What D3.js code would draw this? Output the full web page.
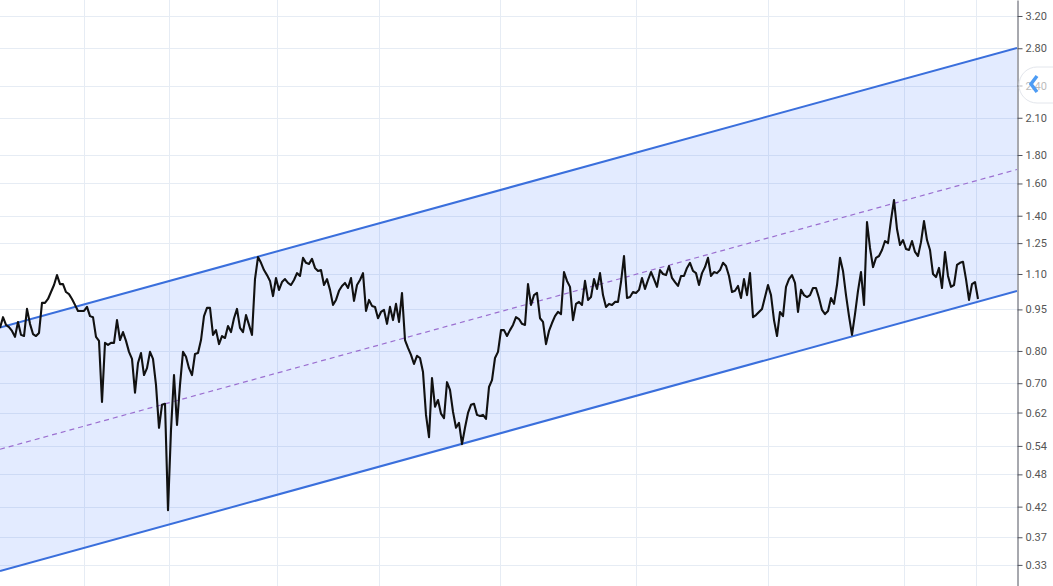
<!DOCTYPE html>
<html><head><meta charset="utf-8">
<script src="https://cdn.jsdelivr.net/npm/d3@7"></script>
<style>html,body{margin:0;padding:0;background:#fff;overflow:hidden}</style>
</head><body>
<svg id="chart" width="1053" height="586"></svg>
<script>
// Closing prices (one per bar)
const prices = [
0.880,0.920,0.891,0.883,0.869,0.848,0.902,0.855,0.851,0.952,
0.895,0.858,0.851,0.862,0.976,0.976,0.992,1.021,1.051,1.095,
1.055,1.055,1.021,1.012,0.992,0.968,0.944,0.944,0.944,0.960,
0.924,0.920,0.848,0.834,0.648,0.827,0.820,0.827,0.827,0.909,
0.837,0.865,0.834,0.797,0.774,0.673,0.761,0.793,0.724,0.745,
0.797,0.774,0.695,0.582,0.640,0.643,0.414,0.577,0.724,0.589,
0.695,0.797,0.781,0.745,0.724,0.790,0.793,0.837,0.924,0.956,
0.956,0.855,0.872,0.823,0.851,0.844,0.887,0.865,0.916,0.952,
0.880,0.865,0.928,0.891,0.855,1.077,1.180,1.152,1.118,1.095,
1.069,1.004,1.082,1.030,1.064,1.077,1.060,1.051,1.073,1.104,
1.091,1.176,1.152,1.147,1.171,1.128,1.114,1.118,1.051,1.077,
1.030,0.968,0.988,1.026,1.047,1.060,1.038,1.082,0.984,1.051,
1.073,1.104,0.944,0.988,0.964,0.960,0.916,0.940,0.948,0.895,
0.960,0.909,0.972,0.902,1.017,0.837,0.810,0.787,0.758,0.784,
0.777,0.733,0.614,0.560,0.715,0.635,0.653,0.617,0.606,0.703,
0.681,0.622,0.582,0.594,0.544,0.582,0.619,0.640,0.643,0.614,
0.611,0.614,0.604,0.689,0.709,0.777,0.797,0.872,0.872,0.851,
0.872,0.891,0.920,0.913,0.895,0.891,1.055,0.968,1.008,1.017,
0.916,0.902,0.823,0.869,0.898,0.924,0.940,0.932,1.109,1.069,
1.043,0.909,0.972,0.980,0.968,1.069,0.988,1.000,1.077,1.034,
1.104,1.008,0.960,0.972,0.968,0.980,0.980,1.064,1.185,0.996,
1.000,1.021,1.017,1.030,1.082,1.034,1.073,1.109,1.077,1.043,
1.118,1.100,1.095,1.137,1.082,1.064,1.047,1.091,1.091,1.128,
1.152,1.114,1.104,1.051,1.104,1.132,1.176,1.091,1.109,1.104,
1.118,1.152,1.137,1.091,1.021,1.026,1.047,0.996,1.077,1.008,
1.104,0.920,0.928,0.940,0.952,1.000,1.051,1.008,0.909,0.851,
0.940,0.924,1.043,1.077,1.095,1.060,0.940,1.030,1.008,1.000,
1.008,1.038,1.038,0.996,0.948,0.932,0.944,0.996,0.972,1.051,
1.176,1.114,1.008,0.924,0.855,0.932,1.026,1.109,0.968,1.364,
1.225,1.132,1.176,1.185,1.215,1.261,1.250,1.375,1.494,1.325,
1.240,1.266,1.220,1.215,1.261,1.205,1.185,1.255,1.369,1.266,
1.215,1.100,1.086,1.128,1.038,1.205,1.091,1.043,1.051,1.142,
1.152,1.157,1.077,0.988,1.055,1.064,0.992
];

// Right price-axis tick values (log scale)
const yTickValues = [3.20, 2.80, 2.40, 2.10, 1.80, 1.60, 1.40, 1.25, 1.10, 0.95, 0.80, 0.70, 0.62, 0.54, 0.48, 0.42, 0.37, 0.33];
// Bar indices of vertical time grid lines
const xGridIndex = [28, 56.33, 92.33, 126.33, 166.67, 212, 256, 301.33, 325.33];
// Parallel channel (anchor bar indices, upper/lower prices at anchors)
const channelIndex = [0, 339];
const channelUpper = [0.8815, 2.803];
const channelLower = [0.3217, 1.0253];
// Visible ranges
const xDomain = [0, 339];
const yDomain = [0.3024, 3.419];

const W = 1053, H = 586, plotRight = 1017;
const svg = d3.select('#chart');
const x = d3.scaleLinear().domain(xDomain).range([0, plotRight]);
const y = d3.scaleLog().domain(yDomain).range([H, 0]);

svg.append('defs').append('clipPath').attr('id', 'plotClip')
  .append('rect').attr('x', 0).attr('y', 0).attr('width', plotRight).attr('height', H);

const plot = svg.append('g').attr('clip-path', 'url(#plotClip)');

// grid
plot.append('g').selectAll('line').data(yTickValues).join('line')
  .attr('x1', 0).attr('x2', plotRight)
  .attr('y1', d => Math.round(y(d)) + 0.5).attr('y2', d => Math.round(y(d)) + 0.5)
  .attr('stroke', '#e6ecf4').attr('stroke-width', 1);
plot.append('g').selectAll('line').data(xGridIndex).join('line')
  .attr('x1', d => Math.round(x(d)) + 0.5).attr('x2', d => Math.round(x(d)) + 0.5)
  .attr('y1', 0).attr('y2', H)
  .attr('stroke', '#e6ecf4').attr('stroke-width', 1);

// channel
const up = channelIndex.map((c, k) => [x(c), y(channelUpper[k])]);
const lo = channelIndex.map((c, k) => [x(c), y(channelLower[k])]);
const mid = channelIndex.map((c, k) => [x(c), y(Math.sqrt(channelUpper[k] * channelLower[k]))]);
plot.append('path')
  .attr('d', d3.line()([up[0], up[1], lo[1], lo[0]]) + 'Z')
  .attr('fill', 'rgba(41,98,255,0.13)');

plot.append('path').attr('d', d3.line()(mid))
  .attr('stroke', '#9b6fd0').attr('stroke-width', 1.2)
  .attr('stroke-dasharray', '5,4').attr('fill', 'none');
plot.append('path').attr('d', d3.line()(up))
  .attr('stroke', '#3a6fdc').attr('stroke-width', 2).attr('fill', 'none');
plot.append('path').attr('d', d3.line()(lo))
  .attr('stroke', '#3a6fdc').attr('stroke-width', 2).attr('fill', 'none');

// price line
plot.append('path').datum(prices)
  .attr('d', d3.line().x((d, i) => x(i)).y(d => y(d)))
  .attr('fill', 'none').attr('stroke', '#111').attr('stroke-width', 2.1)
  .attr('stroke-linejoin', 'round');

// right axis
const axis = d3.axisRight(y).tickValues(yTickValues)
  .tickFormat(d3.format('.2f')).tickSize(5).tickSizeOuter(0).tickPadding(3);
const ag = svg.append('g').attr('transform', `translate(${plotRight + 0.5},0)`).call(axis);
ag.select('.domain').attr('stroke', '#50535e');
ag.selectAll('.tick line').attr('stroke', '#50535e');
ag.selectAll('.tick text').attr('fill', '#555').attr('font-size', 11)
  .attr('font-family', 'Roboto, "Liberation Sans", Arial, sans-serif');

// floating scroll button (semi-transparent, label shows through)
const btn = svg.append('g');
btn.append('rect').attr('x', 1019).attr('y', 67).attr('width', 60).attr('height', 36).attr('rx', 18)
  .attr('fill', 'rgba(255,255,255,0.6)').attr('stroke', '#e3e6ec');
btn.append('polyline').attr('points', '1037,76 1031,84 1037,92')
  .attr('fill', 'none').attr('stroke', '#4d9cf4').attr('stroke-width', 3.5)
  .attr('stroke-linejoin', 'miter');
</script>
</body></html>
